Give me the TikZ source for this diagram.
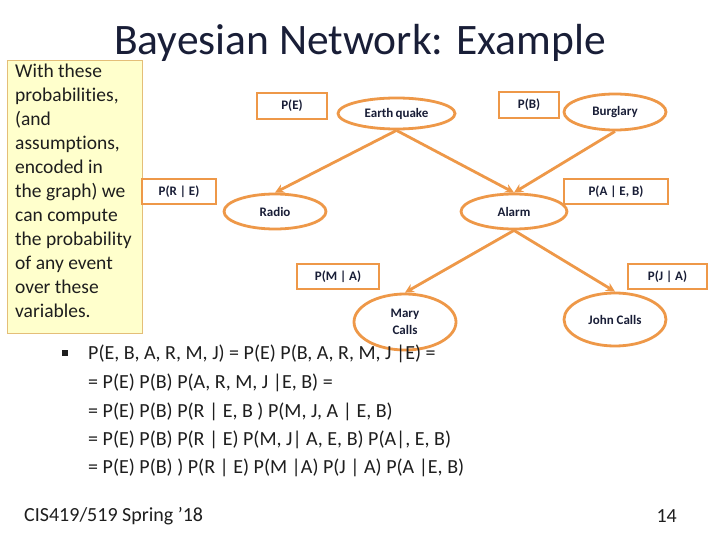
\documentclass[tikz,border=0pt]{standalone}
\usepackage{fontspec}
\setmainfont[Ligatures=CommonOff]{Carlito}
\usetikzlibrary{shapes.geometric,arrows.meta}
\definecolor{orng}{RGB}{238,152,72}
\definecolor{navy}{RGB}{25,30,55}
\definecolor{txt}{RGB}{30,30,30}
\definecolor{noteyel}{RGB}{255,255,204}
\definecolor{notebrd}{RGB}{228,190,120}
\tikzset{
  cpt/.style={draw=orng, line width=2.8pt, rectangle, inner sep=0pt, font=\fontsize{13}{15}\selectfont\bfseries, text=navy},
  var/.style={draw=orng, line width=2.8pt, ellipse, inner sep=0pt, font=\fontsize{13}{17}\selectfont\bfseries, text=navy, align=center},
  edge/.style={draw=orng, line width=2.8pt, -{Stealth[length=9pt,width=9pt]}},
  eqline/.style={anchor=west, inner sep=0pt, font=\fontsize{20}{24}\selectfont, text=txt}
}
\begin{document}
\begin{tikzpicture}[x=1pt,y=-1pt]
\fill[white] (0,0) rectangle (720,540);
\useasboundingbox (0,0) rectangle (720,540);
% title
\node[font=\fontsize{43.5}{50}\selectfont, text=navy, inner sep=0pt] (title) at (360,43) {Bayesian Network: Example};
% note box
\node[draw=notebrd, fill=noteyel, line width=1pt, minimum width=135pt, minimum height=273pt, inner sep=0pt, anchor=north west] (note) at (7,60) {};
\node[anchor=north west, align=left, inner sep=0pt, font=\fontsize{19.5}{24}\selectfont, text=txt] (notetext) at (15,64)
{With these\\probabilities,\\(and\\assumptions,\\encoded in\\the graph) we\\can compute\\the probability\\of any event\\over these\\variables.};
% CPT boxes
\node[cpt, minimum width=70pt, minimum height=26pt] (pe) at (292,106) {P(E)};
\node[cpt, minimum width=74pt, minimum height=25pt] (pre) at (179,191.5) {P(R | E)};
\node[cpt, minimum width=60pt, minimum height=26pt] (pb) at (529,105) {P(B)};
\node[cpt, minimum width=104pt, minimum height=25pt] (paeb) at (616,191.5) {P(A | E, B)};
\node[cpt, minimum width=82pt, minimum height=25pt] (pma) at (338,276.5) {P(M | A)};
\node[cpt, minimum width=79pt, minimum height=25pt] (pja) at (667.5,276.5) {P(J | A)};
% variables
\node[var, minimum width=117pt, minimum height=31pt] (eq) at (396.5,113.5) {Earth\,quake};
\node[var, minimum width=102pt, minimum height=36pt] (bu) at (615,112) {Burglary};
\node[var, minimum width=102pt, minimum height=35pt] (ra) at (275,211.5) {Radio};
\node[var, minimum width=106pt, minimum height=35pt] (al) at (514,211.5) {Alarm};
\node[var, minimum width=102pt, minimum height=56pt] (ma) at (405,322) {Mary\\Calls};
\node[var, minimum width=102pt, minimum height=53pt] (jo) at (615,319.5) {John Calls};
% edges
\draw[edge] (eq.south) -- (ra.north);
\draw[edge] (eq.south) -- (al.north);
\draw[edge] (bu.south) -- (al.north);
\draw[edge] (al.south) -- (ma.north);
\draw[edge] (al.south) -- (jo.north);
% equations
\fill[txt] (62,350) rectangle (68,356);
\node[eqline] (e1) at (88,354) {P(E, B, A, R, M, J) = P(E) P(B, A, R, M, J |E) =};
\node[eqline] (e2) at (88,383) {= P(E) P(B) P(A, R, M, J |E, B) =};
\node[eqline] (e3) at (88,411.5) {= P(E) P(B) P(R | E, B ) P(M, J, A | E, B)};
\node[eqline] (e4) at (88,440) {= P(E) P(B) P(R | E) P(M, J| A, E, B) P(A|, E, B)};
\node[eqline] (e5) at (88,468) {= P(E) P(B) ) P(R | E) P(M |A) P(J | A) P(A |E, B)};
% footer
\node[anchor=west, inner sep=0pt, font=\fontsize{20}{24}\selectfont, text=txt] (foot) at (24,516) {CIS419/519 Spring ’18};
\node[anchor=east, inner sep=0pt, font=\fontsize{20}{24}\selectfont, text=txt] (page) at (677,516) {14};
\end{tikzpicture}
\end{document}
